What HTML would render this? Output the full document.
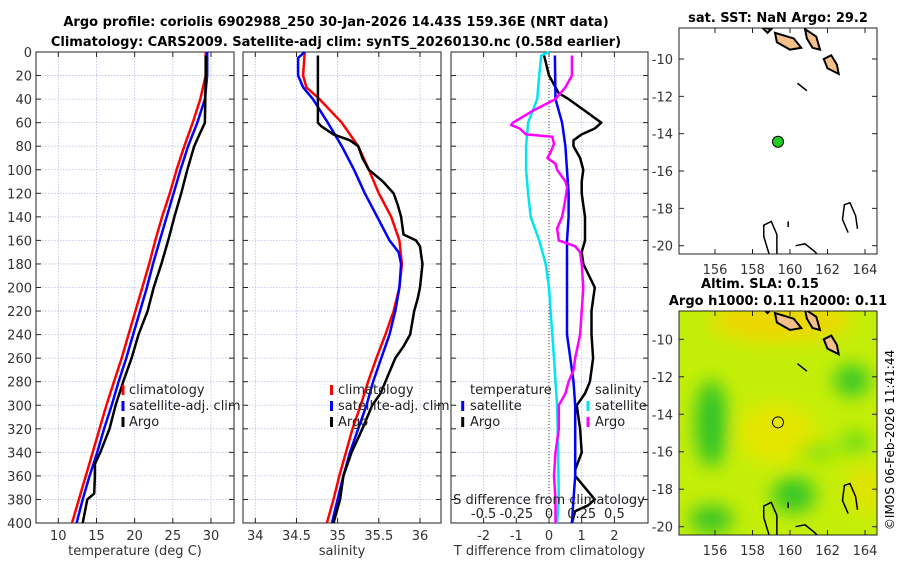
<!DOCTYPE html>
<html><head><meta charset="utf-8">
<style>
html,body{margin:0;padding:0;background:#fff;}
svg{display:block;font-family:"DejaVu Sans","Liberation Sans",sans-serif;}
</style></head>
<body>
<svg id="fig" width="900" height="580" viewBox="0 0 900 580" xmlns="http://www.w3.org/2000/svg">
<defs>
<filter id="blur" x="-50%" y="-50%" width="200%" height="200%"><feGaussianBlur stdDeviation="9"/></filter>
<clipPath id="clipMap2"><rect x="679" y="311" width="198" height="224"/></clipPath>
<clipPath id="clipMap1"><rect x="679" y="28" width="198" height="226"/></clipPath>
</defs>
<text x="336" y="26" text-anchor="middle" font-size="13" font-weight="bold">Argo profile: coriolis 6902988_250 30-Jan-2026 14.43S 159.36E (NRT data)</text>
<text x="336" y="46" text-anchor="middle" font-size="13" font-weight="bold">Climatology: CARS2009. Satellite-adj clim: synTS_20260130.nc (0.58d earlier)</text>
<text x="778" y="22" text-anchor="middle" font-size="13" font-weight="bold">sat. SST: NaN Argo: 29.2</text>
<text x="760" y="288" text-anchor="middle" font-size="13" font-weight="bold">Altim. SLA: 0.15</text>
<text x="778" y="305" text-anchor="middle" font-size="13" font-weight="bold">Argo h1000: 0.11 h2000: 0.11</text>
<text transform="translate(894,440) rotate(-90)" text-anchor="middle" font-size="12">©IMOS 06-Feb-2026 11:41:44</text>
<g id="layer"></g>
</svg>
<script>
// ---------- data ----------
const depths = [0,20,40,60,80,100,120,140,160,180,200,220,240,260,280,300,320,340,360,380,400];
const tempClim = [29.3,29.3,28.6,27.6,26.5,25.5,24.6,23.6,22.7,21.9,21.0,20.1,19.2,18.3,17.3,16.3,15.4,14.5,13.6,12.7,11.8];
const tempSat  = [29.5,29.5,29.2,28.2,27.0,26.0,25.1,24.2,23.3,22.4,21.6,20.7,19.8,18.9,17.9,17.0,16.0,15.1,14.1,13.2,12.4];
const argoTDepth = [3,20,40,60,70,80,100,120,140,160,180,200,220,240,260,280,300,320,340,350,360,375,380,400];
const argoTemp   = [29.3,29.3,29.25,29.2,28.5,27.8,26.9,26.1,25.2,24.4,23.5,22.5,21.7,20.5,19.6,18.5,17.5,16.7,15.5,14.8,14.8,14.7,13.8,13.2];
const salClimDepth = [0,20,30,40,60,80,100,120,140,160,180,200,220,240,260,280,300,320,340,360,380,400];
const salClim = [34.6,34.58,34.62,34.78,35.05,35.25,35.38,35.5,35.65,35.75,35.78,35.75,35.68,35.58,35.47,35.37,35.28,35.18,35.1,35.02,34.95,34.87];
const salSatDepth = [0,5,20,30,40,60,80,100,120,140,160,170,180,200,220,240,260,280,300,320,340,360,380,400];
const salSat = [34.6,34.52,34.52,34.58,34.7,34.88,35.05,35.2,35.33,35.48,35.63,35.74,35.77,35.75,35.7,35.63,35.53,35.43,35.35,35.25,35.15,35.07,35.0,34.93];
const argoSDepth = [3,60,63,70,75,80,90,100,110,120,130,140,155,160,165,175,180,200,210,220,240,250,260,280,290,300,320,340,360,380,400];
const argoSal = [34.76,34.76,34.8,34.95,35.15,35.25,35.3,35.38,35.55,35.68,35.73,35.77,35.8,35.95,36.0,36.02,36.03,36.0,35.97,35.93,35.88,35.8,35.7,35.58,35.52,35.42,35.3,35.17,35.07,35.03,34.95];
const dTArgoDepth = [3,20,35,40,50,60,65,70,75,80,90,100,110,120,130,140,160,170,180,200,210,220,240,260,270,280,290,300,310,320,340,355,360,370,380,385,390,400];
const dTArgo = [-0.15,0.0,0.3,0.6,1.1,1.6,1.4,1.0,0.75,0.75,0.95,1.05,1.0,1.0,1.05,1.1,1.1,1.0,1.05,1.4,1.35,1.3,1.3,1.35,1.3,1.25,1.1,0.85,0.9,0.95,1.0,0.8,0.8,1.1,1.4,1.2,0.8,0.7];
const dTSatDepth = [3,40,60,80,100,120,140,160,180,200,220,240,260,280,300,320,340,360,380,400];
const dTSat = [0.18,0.2,0.4,0.5,0.55,0.6,0.6,0.55,0.55,0.55,0.55,0.55,0.65,0.75,0.8,0.8,0.8,0.8,0.75,0.7];
const dSSatDepth = [0,3,20,40,60,80,100,120,140,160,180,200,220,240,260,280,300,340,380,400];
const dSSat = [0.0,-0.06,-0.075,-0.09,-0.16,-0.175,-0.175,-0.16,-0.14,-0.075,-0.025,0.0,0.012,0.025,0.038,0.05,0.062,0.07,0.075,0.062];
const dSArgoDepth = [3,20,30,40,50,60,62,65,70,72,78,85,90,95,100,110,115,125,140,150,160,165,170,180,200,220,240,260,270,280,290,300,320,340,360,380,400];
const dSArgo = [0.175,0.175,0.125,0.05,-0.125,-0.275,-0.29,-0.225,-0.175,0.025,0.038,0.012,-0.012,0.05,0.062,0.125,0.138,0.125,0.1,0.062,0.075,0.2,0.238,0.25,0.262,0.25,0.238,0.2,0.188,0.15,0.125,0.075,0.075,0.05,0.038,0.05,0.05];
const depthTicks = [0,20,40,60,80,100,120,140,160,180,200,220,240,260,280,300,320,340,360,380,400];
const tempTicks = [10,15,20,25,30];
const salTicks = [34,34.5,35,35.5,36];
const salTickLabels = ['34','34.5','35','35.5','36'];
const dTTicks = [-2,-1,0,1,2];
const dSTicks = [-0.5,-0.25,0,0.25,0.5];
const dSTickLabels = ['-0.5','-0.25','0','0.25','0.5'];
const lonTicks = [156,158,160,162,164];
const latTicks = [-10,-12,-14,-16,-18,-20];
const argoLon = 159.36, argoLat = -14.43;

// ---------- helpers ----------
const NS='http://www.w3.org/2000/svg';
const layer=document.getElementById('layer');
function mk(tag,attrs,parent){const e=document.createElementNS(NS,tag);for(const k in attrs)e.setAttribute(k,attrs[k]);(parent||layer).appendChild(e);return e;}
const Y0=52,Y1=523;
const yD=d=>Y0+d*(Y1-Y0)/400;
function lin(d0,d1,r0,r1){return v=>r0+(v-d0)*(r1-r0)/(d1-d0);}

function panel(name,x0,x1,xs,ticks,labels,xlabel,showY){
  const g=mk('g',{});
  
  
  ticks.forEach((t,i)=>{const x=xs(t);
    const l=mk('line',{x1:x,x2:x,y1:Y0,y2:Y1,stroke:'#b8c0e0','stroke-width':0.8,'stroke-dasharray':'1.5,1.5'},g);
    
    mk('line',{x1:x,x2:x,y1:Y1,y2:Y1-5,stroke:'#222'},g);mk('line',{x1:x,x2:x,y1:Y0,y2:Y0+5,stroke:'#222'},g);
    const tx=mk('text',{x:x,y:Y1+17,'text-anchor':'middle','font-size':13,fill:'#333'},g);tx.textContent=labels[i];
    });
  depthTicks.forEach(d=>{const y=yD(d);
    const l=mk('line',{x1:x0,x2:x1,y1:y,y2:y,stroke:'#b8c0e0','stroke-width':0.8,'stroke-dasharray':'1.5,1.5'},g);
    
    mk('line',{x1:x0,x2:x0+5,y1:y,y2:y,stroke:'#222'},g);mk('line',{x1:x1,x2:x1-5,y1:y,y2:y,stroke:'#222'},g);
    if(showY){const tx=mk('text',{x:x0-4,y:y+5,'text-anchor':'end','font-size':13,fill:'#333'},g);tx.textContent=d;
      }});
  const r=mk('rect',{x:x0,y:Y0,width:x1-x0,height:Y1-Y0,fill:'none',stroke:'#222','stroke-width':1},g);
  
  const xl=mk('text',{x:(x0+x1)/2,y:Y1+32,'text-anchor':'middle','font-size':13,fill:'#333'},g);xl.textContent=xlabel;
  
  return g;
}
function line(name,ds,vs,xs,color,w){
  const pts=ds.map((d,i)=>xs(vs[i]).toFixed(1)+','+yD(d).toFixed(1)).join(' ');
  const p=mk('polyline',{points:pts,fill:'none',stroke:color,'stroke-width':w||2.5,'stroke-linejoin':'round'});
  
}
function legend(name,items,mx,tx,ys){
  const g=mk('g',{});
  items.forEach((it,i)=>{
    if(it[1]) mk('line',{x1:mx,x2:mx,y1:ys[i]-9,y2:ys[i]+1,stroke:it[1],'stroke-width':3},g);
    const t=mk('text',{x:tx,y:ys[i],'font-size':13,fill:'#222'},g);t.textContent=it[0];
    });
}

// Panel 1: temperature
const xT=lin(10,30,58.3,211);
panel('temperature-panel',36,234,xT,tempTicks,tempTicks.map(String),'temperature (deg C)',true);
line('temp-climatology-line',depths,tempClim,xT,'#ff0000');
line('temp-satellite-line',depths,tempSat,xT,'#0000ff');
line('temp-argo-line',argoTDepth,argoTemp,xT,'#000000');
legend('temperature-legend',[['climatology','#ff0000'],['satellite-adj. clim','#0000ff'],['Argo','#000']],123,129,[394,410,426]);

// Panel 2: salinity
const xS=lin(34,36,255.3,420);
panel('salinity-panel',243,441,xS,salTicks,salTickLabels,'salinity',false);
line('sal-climatology-line',salClimDepth,salClim,xS,'#ff0000');
line('sal-satellite-line',salSatDepth,salSat,xS,'#0000ff');
line('sal-argo-line',argoSDepth,argoSal,xS,'#000000');
legend('salinity-legend',[['climatology','#ff0000'],['satellite-adj. clim','#0000ff'],['Argo','#000']],331.5,338,[394,410,426]);

// Panel 3: differences
const xdT=lin(0,1,549,581.7);
const xdS=lin(0,0.25,549,581.7);
panel('difference-panel',451,648,xdT,dTTicks,dTTicks.map(String),'T difference from climatology',false);
const zl=mk('line',{x1:xdT(0),x2:xdT(0),y1:Y0,y2:Y1,stroke:'#444','stroke-width':1,'stroke-dasharray':'1,2'});

line('s-diff-satellite-line',dSSatDepth,dSSat,xdS,'#00e5ee');
line('t-diff-argo-line',dTArgoDepth,dTArgo,xdT,'#000000');
line('t-diff-satellite-line',dTSatDepth,dTSat,xdT,'#0000ff');
line('s-diff-argo-line',dSArgoDepth,dSArgo,xdS,'#ff00ff');
legend('t-diff-legend',[['temperature',null],['satellite','#0000ff'],['Argo','#000']],462.7,470,[394,410,426]);
legend('s-diff-legend',[['salinity',null],['satellite','#00e5ee'],['Argo','#ff00ff']],588,595,[394,410,426]);
const sl=mk('text',{x:549,y:504,'text-anchor':'middle','font-size':13,fill:'#222'});sl.textContent='S difference from climatology';

dSTicks.forEach((t,i)=>{const tx=mk('text',{x:xdS(t),y:518,'text-anchor':'middle','font-size':13,fill:'#222'});tx.textContent=dSTickLabels[i];
  });

// ---------- maps ----------
function map(name,top,bot,latTopPx,latBotPx,clipId,bg){
  const lx=lin(156,164,715,865);const ly=lin(-10,-20,latTopPx,latBotPx);
  const g=mk('g',{});
  const inner=mk('g',{'clip-path':'url(#'+clipId+')'},g);
  if(bg) bg(inner,lx,ly);
  const isl=[[[159.2,-8.6],[160.2,-8.9],[160.6,-9.4],[160.0,-9.5],[159.3,-9.1]],
             [[160.8,-8.4],[161.4,-8.8],[161.6,-9.5],[161.2,-9.4],[160.9,-8.9]],
             [[161.8,-10.0],[162.2,-9.8],[162.5,-10.3],[162.6,-10.8],[162.0,-10.5]],
             [[158.5,-8.3],[159.0,-8.4],[158.8,-8.6]]];
  isl.forEach(p=>{const e=mk('polygon',{points:p.map(q=>lx(q[0])+','+ly(q[1])).join(' '),fill:'#f5c08a',stroke:'#000','stroke-width':2},inner);
    });
  const cst=[[[158.9,-20.5],[158.6,-19.5],[158.6,-18.9],[159.0,-18.7],[159.3,-19.4],[159.3,-20.5]],
             [[163.1,-19.3],[162.8,-18.6],[162.9,-17.8],[163.2,-17.7],[163.5,-18.4],[163.6,-19.1]],
             [[160.3,-20.0],[160.8,-19.9],[161.3,-20.3],[161.5,-20.5]],
             [[159.9,-18.7],[159.9,-19.0]],[[160.4,-11.3],[160.9,-11.7]]];
  cst.forEach(p=>{const e=mk('polyline',{points:p.map(q=>lx(q[0])+','+ly(q[1])).join(' '),fill:'none',stroke:'#000','stroke-width':1.5},inner);
    });
  const fr=mk('rect',{x:679,y:top,width:198,height:bot-top,fill:'none',stroke:'#222'},g);
  
  lonTicks.forEach(t=>{const x=lx(t);mk('line',{x1:x,x2:x,y1:bot,y2:bot-5,stroke:'#222'},g);mk('line',{x1:x,x2:x,y1:top,y2:top+5,stroke:'#222'},g);
    const tx=mk('text',{x:x,y:bot+20,'text-anchor':'middle','font-size':13,fill:'#333'},g);tx.textContent=t;
    });
  latTicks.forEach(t=>{const y=ly(t);mk('line',{x1:679,x2:684,y1:y,y2:y,stroke:'#222'},g);mk('line',{x1:877,x2:872,y1:y,y2:y,stroke:'#222'},g);
    const tx=mk('text',{x:673,y:y+5,'text-anchor':'end','font-size':13,fill:'#333'},g);tx.textContent=t;
    });
  return {g,lx,ly};
}
const m1=map('sst-map',28,254,59,245.7,'clipMap1',null);
const dot=mk('circle',{cx:m1.lx(argoLon),cy:m1.ly(argoLat),r:5.5,fill:'#22cc22',stroke:'#000','stroke-width':1});


const m2=map('sla-map',311,535,339.3,526.7,'clipMap2',(g,lx,ly)=>{
  mk('rect',{x:679,y:311,width:198,height:224,fill:'#c4ee08'},g);
  const b=mk('g',{filter:'url(#blur)'},g);
  mk('ellipse',{cx:lx(159.5),cy:ly(-9),rx:70,ry:22,fill:'#ecd800'},b);
  mk('ellipse',{cx:lx(159.3),cy:ly(-15),rx:40,ry:30,fill:'#e4e600'},b);
  mk('ellipse',{cx:lx(164),cy:ly(-18),rx:18,ry:25,fill:'#e0e400'},b);
  mk('ellipse',{cx:lx(155.8),cy:ly(-14.5),rx:16,ry:44,fill:'#30c428'},b);
  mk('ellipse',{cx:lx(163.3),cy:ly(-12.2),rx:18,ry:16,fill:'#38c828'},b);
  mk('ellipse',{cx:lx(160.2),cy:ly(-18.3),rx:22,ry:18,fill:'#38c828'},b);
  mk('ellipse',{cx:lx(155.8),cy:ly(-19.6),rx:22,ry:14,fill:'#38c428'},b);
  mk('ellipse',{cx:lx(163.5),cy:ly(-15.5),rx:14,ry:10,fill:'#60d818'},b);
  mk('ellipse',{cx:lx(161.5),cy:ly(-16),rx:20,ry:8,fill:'#80e010'},b);
});
const oc=mk('circle',{cx:m2.lx(argoLon),cy:m2.ly(argoLat),r:5.5,fill:'none',stroke:'#000','stroke-width':1});

</script>
</body></html>
